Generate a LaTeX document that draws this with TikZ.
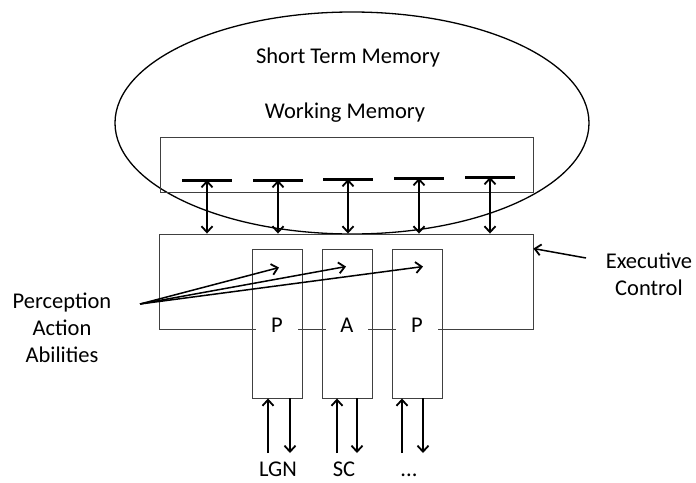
\documentclass[tikz,border=0pt]{standalone}
\usepackage{fontspec}
\setmainfont{Carlito}
\usetikzlibrary{arrows.meta,calc,positioning,shapes.geometric}
\newcommand{\etcdots}{...}

\begin{document}
\begin{tikzpicture}[x=1pt,y=-1pt,>={Straight Barb[length=6pt,width=11pt,line width=1.8pt]},inner sep=0pt,
    font=\fontsize{22.5}{27}\selectfont]
  % Styles
  \tikzset{box/.style={draw=black!75,line width=0.9pt,rectangle},
           link/.style={->,line width=1.5pt},
           both/.style={<->,line width=1.5pt},
           slot/.style={line width=3pt},
           tag/.style={fill=white,minimum width=42pt,inner sep=1pt,anchor=base}}
  \useasboundingbox (0,0) rectangle (696,482);

  % short term memory
  \node[draw,ellipse,line width=1.3pt,minimum width=474pt,minimum height=222pt] (stm) at (352,123) {};
  \node[anchor=base] (stmtext) at (348,63) {Short Term Memory};
  \node[anchor=base] (wmtext) at (345,118) {Working Memory};

  % working memory buffer and executive control
  \node[box,minimum width=373pt,minimum height=55pt] (wm) at (346.5,164.5) {};
  \node[box,minimum width=374pt,minimum height=95pt] (exec) at (346,281.5) {};

  % memory slots with links to executive control
  \foreach \i/\x/\y in {1/207/180,2/278/180,3/348/179,4/419/178,5/490/177}{%
    \coordinate (slot\i) at (\x,\y);
    \draw[slot] ($(slot\i)+(-25,0)$) -- ($(slot\i)+(25,0)$);
    \draw[both] (slot\i) -- (slot\i |- exec.north);
  }

  % perception / action columns
  \foreach \i/\x/\t in {1/277/P,2/347/A,3/417/P}{%
    \node[box,minimum width=50pt,minimum height=149pt] (col\i) at (\x,323.5) {};
    \node[tag] (tag\i) at (\x,332) {\t};
  }

  % inputs and outputs of each column
  \foreach \i/\u/\d/\s/\t in {1/268/290/278/LGN,2/337/357/344/SC,3/402/423/409/\etcdots}{%
    \coordinate (in\i) at (\u,453);
    \coordinate (out\i) at (\d,453);
    \draw[link] (in\i) -- (in\i |- col\i.south);
    \draw[link] (out\i |- col\i.south) -- (out\i);
    \node[anchor=base] (src\i) at (\s,476) {\t};
  }

  % perception action abilities
  \node[align=center] (pa) at (62,328) {Perception\\Action\\Abilities};
  \coordinate (pastart) at (140,304);
  \draw[link] (pastart) -- ($(col1.north)+(2,19)$);
  \draw[link] (pastart) -- ($(col2.north)+(-1,18)$);
  \draw[link] (pastart) -- ($(col3.north)+(6,18)$);

  % executive control
  \node[align=center] (ec) at (649,274) {Executive\\Control};
  \coordinate (ecstart) at (586,258);
  \draw[link] (ecstart) -- ($(exec.north east)+(0,15)$);
\end{tikzpicture}
\end{document}
